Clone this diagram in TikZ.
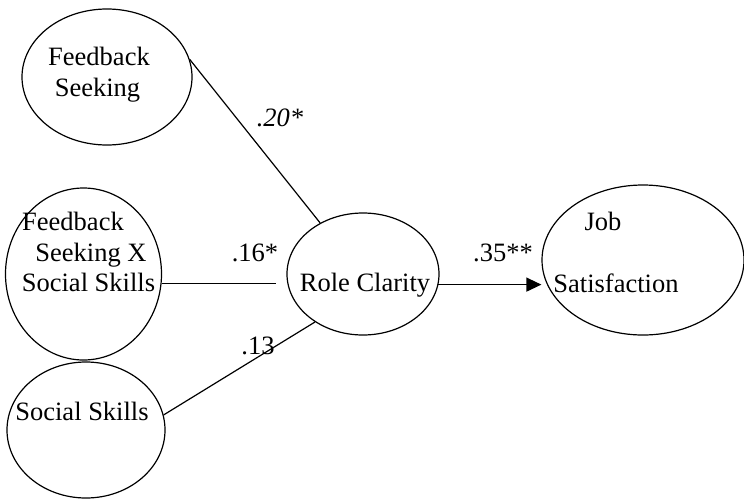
\documentclass[tikz,border=0pt]{standalone}
\usepackage{fontspec}
\setmainfont{Liberation Serif}
\usetikzlibrary{shapes.geometric,arrows.meta}
\begin{document}
\begin{tikzpicture}[x=1pt,y=-1pt,
  lat/.style={draw,ellipse,line width=1.2pt,inner sep=0pt},
  txt/.style={anchor=base,inner sep=0pt,font=\fontsize{26.5}{30}\selectfont},
  path/.style={line width=1.2pt}]
\useasboundingbox (0,0) rectangle (744,499);
% latent variables
\node[lat,minimum width=170pt,minimum height=136pt] (fs) at (107,77) {};
\node[lat,minimum width=156pt,minimum height=172pt] (fx) at (83.5,274) {};
\node[lat,minimum width=158pt,minimum height=136pt] (ss) at (86,430) {};
\node[lat,minimum width=152pt,minimum height=122pt] (rc) at (363,274) {};
\node[lat,minimum width=202pt,minimum height=150pt] (js) at (643,260) {};
% texts
\node[txt] (fs1) at (99,65.7) {Feedback};
\node[txt] (fs2) at (97.5,96.7) {Seeking};
\node[txt] (fx1) at (73,230) {Feedback};
\node[txt] (fx2) at (91,261.7) {Seeking X};
\node[txt] (fx3) at (88.5,291.7) {Social Skills};
\node[txt] (ss1) at (82,420.7) {Social Skills};
\node[txt] (rc1) at (365,291.7) {Role Clarity};
\node[txt] (js1) at (603,230.7) {Job};
\node[txt] (js2) at (616,292.7) {Satisfaction};
% paths
\draw[path] (fs.12) -- (rc.130);
\draw[path,shorten >=10pt] (fx.-7) -- (fx.-7 -| rc.west);
\draw[path] (ss.11) -- (rc.225);
\draw[path,-{Triangle[length=15pt,width=14pt]}] (rc.-8) -- (rc.-8 -| js.west);
% coefficients
\node[txt,font=\fontsize{26.5}{30}\selectfont\itshape] (c1) at (280,126) {.20*};
\node[txt] (c2) at (255,261.7) {.16*};
\node[txt] (c3) at (258,354) {.13};
\node[txt] (c4) at (503,261.7) {.35**};
\end{tikzpicture}
\end{document}
